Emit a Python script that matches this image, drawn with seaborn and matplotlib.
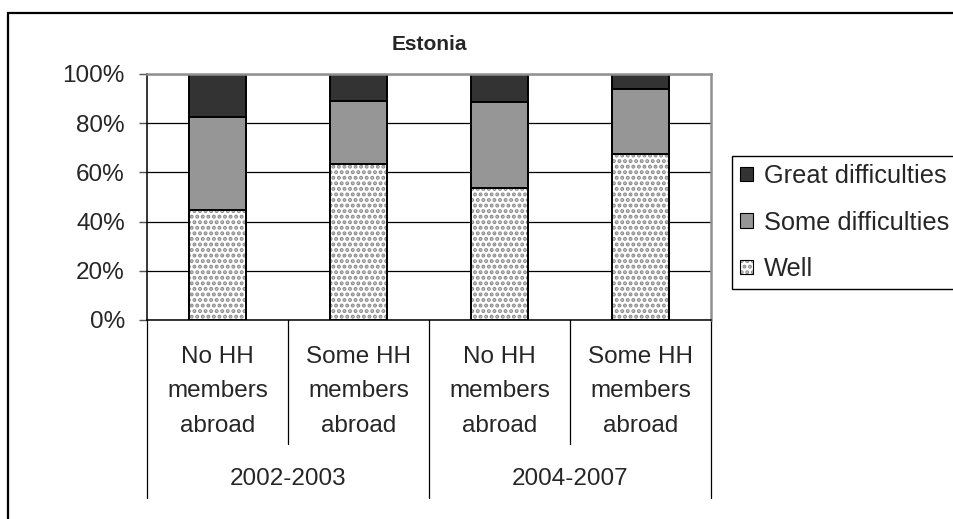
import pandas as pd
import seaborn as sns
import matplotlib.pyplot as plt
from matplotlib.patches import Patch, Rectangle

# Data (percent of households)
groups = ['No HH\nmembers\nabroad', 'Some HH\nmembers\nabroad',
          'No HH\nmembers\nabroad', 'Some HH\nmembers\nabroad']
periods = ['2002-2003', '2004-2007']
well = [44.7, 63.3, 53.5, 67.4]
some = [37.9, 25.9, 35.0, 26.5]
great = [17.4, 10.8, 11.5, 6.1]

sns.set_style('white')
plt.rcParams['font.family'] = ['Liberation Sans', 'DejaVu Sans']
plt.rcParams['hatch.linewidth'] = 2.0

df = pd.DataFrame({'id': ['c0', 'c1', 'c2', 'c3'], 'well': well, 'some': some, 'great': great})
df['top'] = df['well'] + df['some'] + df['great']
df['mid'] = df['well'] + df['some']

fig = plt.figure(figsize=(9.54, 5.19), dpi=100)
ax = fig.add_axes([147 / 954, 1 - 320 / 519, 564 / 954, 246 / 519])

# stacked bars: draw cumulative totals back to front
edge = dict(edgecolor='black', linewidth=1.4)
sns.barplot(data=df, x='id', y='top', color='#333333', width=0.4, saturation=1, errorbar=None, ax=ax, **edge)
sns.barplot(data=df, x='id', y='mid', color='#969696', width=0.4, saturation=1, errorbar=None, ax=ax, **edge)
sns.barplot(data=df, x='id', y='well', color='white', width=0.4, saturation=1, errorbar=None, ax=ax,
            edgecolor='#8c8c8c', linewidth=0, hatch='...')
sns.barplot(data=df, x='id', y='well', color='black', width=0.4, fill=False, errorbar=None, ax=ax, linewidth=1.4)

ax.set_ylim(0, 100)
ax.set_xlim(-0.5, 3.5)
ax.set_xlabel('')
ax.set_ylabel('')
ax.set_yticks([0, 20, 40, 60, 80, 100])
ax.set_yticklabels([f'{v}%' for v in range(0, 101, 20)])
ax.tick_params(axis='y', length=6, width=1, color='#555555', pad=10, labelsize=17.5, left=True)
ax.set_xticks([])
ax.yaxis.grid(True, color='black', linewidth=0.9)
ax.set_axisbelow(True)

for s in ['left', 'bottom']:
    ax.spines[s].set_color('black')
    ax.spines[s].set_linewidth(1.1)
for s in ['top', 'right']:
    ax.spines[s].set_color('#909090')
    ax.spines[s].set_linewidth(1.8)

# category labels and separators below the axis
tr = ax.get_xaxis_transform()
for i, g in enumerate(groups):
    ax.text(i, -0.29, g, transform=tr, ha='center', va='center', fontsize=17.5, linespacing=1.72)
for j, p in enumerate(periods):
    ax.text(2 * j + 0.5, -0.645, p, transform=tr, ha='center', va='center', fontsize=17.5)
for x in [-0.5, 1.5, 3.5]:
    ax.plot([x, x], [0, -0.7236], transform=tr, color='black', lw=0.9, clip_on=False)
for x in [0.5, 2.5]:
    ax.plot([x, x], [0, -0.504], transform=tr, color='black', lw=0.9, clip_on=False)

fig.text(429 / 954, 1 - 45 / 519, 'Estonia', ha='center', va='center', fontsize=15, fontweight='bold')

handles = [
    Patch(facecolor='#333333', edgecolor='black', linewidth=0.8),
    Patch(facecolor='#969696', edgecolor='black', linewidth=0.8),
    (Patch(facecolor='white', edgecolor='#8c8c8c', linewidth=0, hatch='...'),
     Patch(fill=False, edgecolor='black', linewidth=0.8)),
]
leg = fig.legend(handles, ['Great difficulties', 'Some difficulties', 'Well'],
                 loc='upper left', bbox_to_anchor=(732 / 954, 1 - 156 / 519), bbox_transform=fig.transFigure,
                 fontsize=18.3, frameon=True, fancybox=False, framealpha=1, edgecolor='black',
                 borderpad=0.32, borderaxespad=0, handlelength=0.5, handleheight=0.5,
                 handletextpad=0.45, labelspacing=0.88)
leg.get_frame().set_linewidth(1)

# outer chart border (extends past the right and bottom edges)
fig.patches.append(Rectangle((8 / 954, -0.2), 1.2, 1.2 - 12.7 / 519, transform=fig.transFigure,
                             fill=False, edgecolor='black', linewidth=1.6))

fig.savefig('out.png', dpi=100)
